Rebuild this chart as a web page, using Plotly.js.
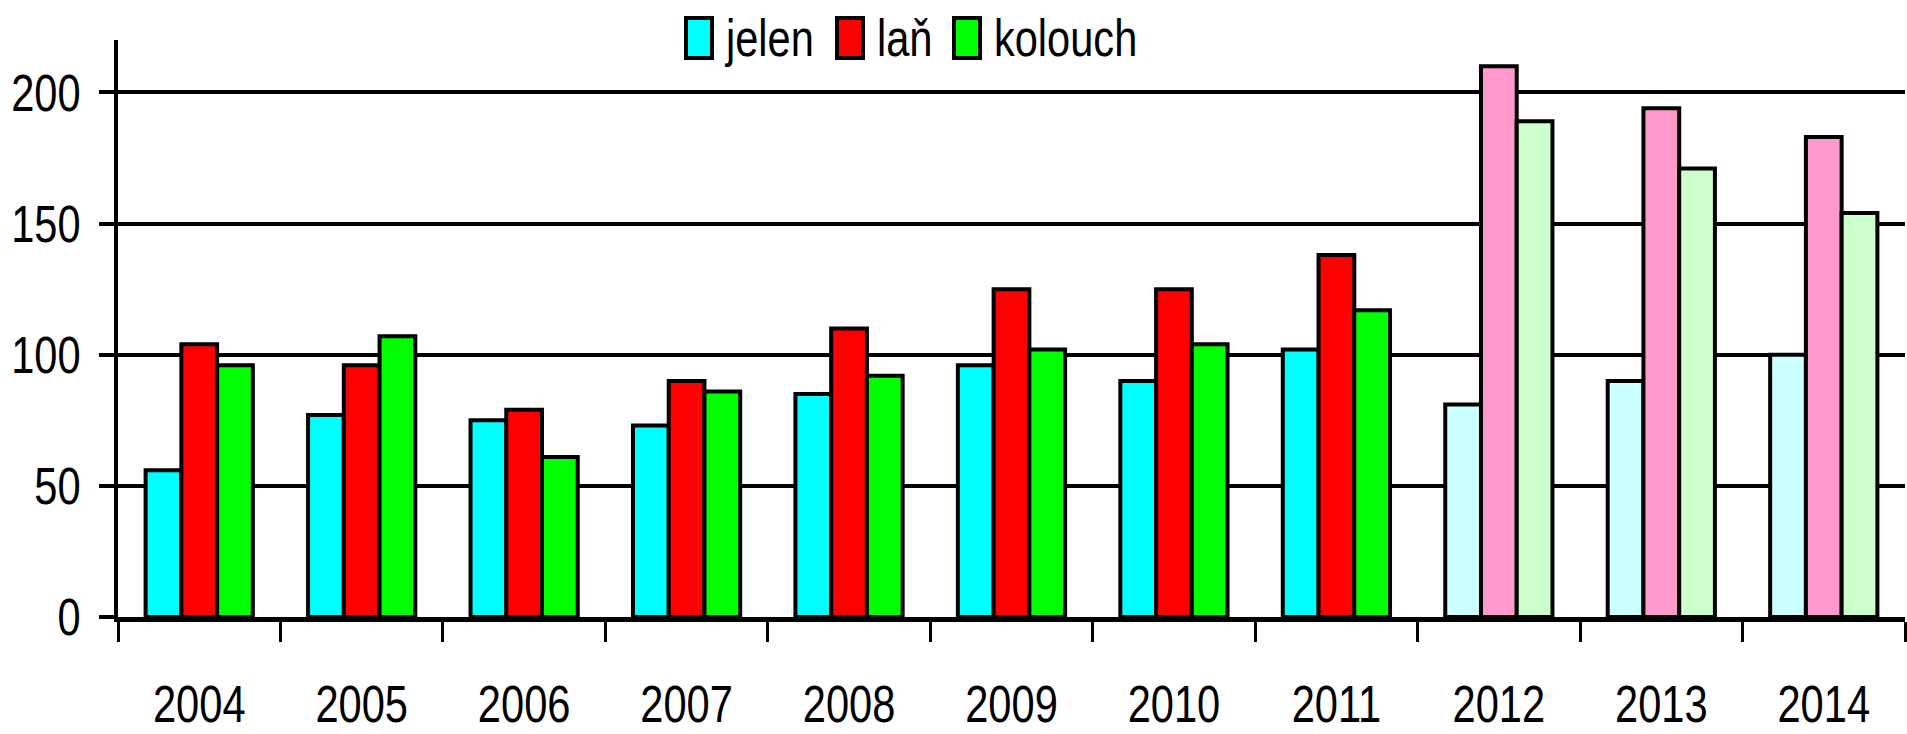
<!DOCTYPE html>
<html>
<head>
<meta charset="utf-8">
<script src="https://cdn.plot.ly/plotly-3.0.1.min.js"></script>
<style>
  html, body { margin: 0; padding: 0; background: #fff; }
  #chart { width: 1907px; height: 734px; }
</style>
</head>
<body>
<div id="chart"></div>
<script>
// ---- data ----
const years = ['2004', '2005', '2006', '2007', '2008', '2009', '2010', '2011', '2012', '2013', '2014'];
const seriesNames = ['jelen', 'laň', 'kolouch'];
const jelen   = [56, 77, 75, 73, 85, 96, 90, 102, 81, 90, 100];
const lan     = [104, 96, 79, 90, 110, 125, 125, 138, 210, 194, 183];
const kolouch = [96, 107, 61, 86, 92, 102, 104, 117, 189, 171, 154];
const yTicks  = [0, 50, 100, 150, 200];

// ---- styles ----
const strongColors = ['#00FFFF', '#FF0000', '#00FF00'];
const paleColors   = ['#CCFFFF', '#FF99CC', '#CCFFCC'];
const paleFromIndex = 8; // 2012 onwards drawn in pale colours
const FONT = '"Liberation Sans Narrow", "Arial Narrow", "Liberation Sans", Arial, sans-serif';
const NARROW = 0.8; // horizontal condensation applied to text (narrow face not installed)

const seriesValues = [jelen, lan, kolouch];
const traces = seriesValues.map((vals, s) => ({
  type: 'bar',
  name: seriesNames[s],
  x: years,
  y: vals,
  marker: {
    color: years.map((_, i) => i >= paleFromIndex ? paleColors[s] : strongColors[s]),
    line: { color: '#000', width: 4 }
  },
  showlegend: false,
  hoverinfo: 'x+y+name'
}));

// plot area geometry helpers (paper coords)
const ML = 118, MR = 2, MT = 40, MB = 117, W = 1907, H = 734;
const pw = W - ML - MR, ph = H - MT - MB;
const px = v => (v - ML) / pw;
const py = v => (H - MB - v) / ph;

// custom legend (swatches + labels)
const legendItems = [
  { sx: 686, tc: 769 },
  { sx: 837, tc: 904 },
  { sx: 954, tc: 1065 }
];
const shapes = legendItems.map((it, s) => ({
  type: 'rect', xref: 'paper', yref: 'paper',
  x0: px(it.sx), x1: px(it.sx + 26), y0: py(58), y1: py(18),
  fillcolor: strongColors[s], line: { color: '#000', width: 4 }, layer: 'above'
}));
const annotations = legendItems.map((it, s) => ({
  xref: 'paper', yref: 'paper',
  x: px(it.tc), y: py(38),
  xanchor: 'center', yanchor: 'middle',
  text: seriesNames[s], showarrow: false,
  font: { family: FONT, size: 52, color: '#000' }
}));

const layout = {
  width: W, height: H,
  margin: { l: ML, r: MR, t: MT, b: MB, pad: 0 },
  paper_bgcolor: '#fff', plot_bgcolor: '#fff',
  barmode: 'group', bargap: 0.34, bargroupgap: 0,
  font: { family: FONT, size: 52, color: '#000' },
  showlegend: false,
  xaxis: {
    type: 'category',
    tickson: 'boundaries',
    ticks: 'outside', ticklen: 20, tickwidth: 3, tickcolor: '#000',
    showline: true, linecolor: '#000', linewidth: 5,
    showgrid: false, zeroline: false,
    ticklabelstandoff: 38,
    tickfont: { family: FONT, size: 52, color: '#000' }
  },
  yaxis: {
    range: [0, 220],
    tickvals: yTicks, ticktext: yTicks.map(String),
    ticks: 'outside', ticklen: 15, tickwidth: 4, tickcolor: '#000',
    showline: true, linecolor: '#000', linewidth: 4,
    showgrid: true, gridcolor: '#000', gridwidth: 4,
    zeroline: false,
    ticklabelstandoff: 8,
    tickfont: { family: FONT, size: 52, color: '#000' }
  },
  shapes: shapes,
  annotations: annotations
};

Plotly.newPlot('chart', traces, layout, { displayModeBar: false, staticPlot: true }).then(gd => {
  gd.querySelectorAll('g.xtick text, g.ytick text, g.annotation text').forEach(t => {
    const w = t.getComputedTextLength();
    if (w > 0) {
      t.setAttribute('textLength', (w * NARROW).toFixed(1));
      t.setAttribute('lengthAdjust', 'spacingAndGlyphs');
    }
  });
});
</script>
</body>
</html>
